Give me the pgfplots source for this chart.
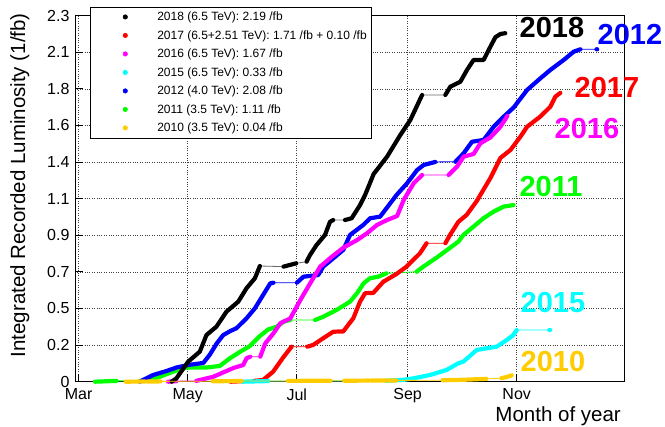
\documentclass[border=0pt]{standalone}
\usepackage{fontspec}
\setmainfont{Liberation Sans}
\usepackage{pgfplots}
\usepackage{pgfplotstable}
\pgfplotsset{compat=1.18}

\definecolor{rgreen}{RGB}{0,255,0}
\definecolor{rorange}{RGB}{255,204,0}
\definecolor{rcyan}{RGB}{0,255,255}
\definecolor{rmagenta}{RGB}{255,0,255}
\definecolor{rblue}{RGB}{0,0,255}
\definecolor{rred}{RGB}{255,0,0}

% day of year vs integrated luminosity (1/fb); nan rows = no data (gap)
\pgfplotstableread{
d l
112.0 0.000
114.7 0.021
121.3 0.126
127.8 0.189
131.5 0.293
137.1 0.346
142.7 0.440
149.3 0.503
153.9 0.587
158.6 0.650
161.4 0.727
nan nan
174.6 0.723
181.7 0.744
nan nan
187.5 0.754
189.4 0.796
193.1 0.859
197.8 0.922
200.6 1.005
202.4 1.016
nan nan
209.0 1.016
212.7 1.027
217.4 1.110
220.2 1.173
225.0 1.305
232.5 1.414
239.9 1.550
245.5 1.644
252.1 1.802
nan nan
265.1 1.802
267.9 1.854
273.5 1.885
277.2 1.959
280.9 2.022
286.5 2.022
289.3 2.084
293.1 2.165
295.9 2.185
298.6 2.190
}\yrEighteen

\pgfplotstableread{
d l
145.0 0.000
151.0 0.003
nan nan
158.0 0.005
163.2 0.011
168.8 0.063
174.4 0.152
179.1 0.220
nan nan
187.9 0.220
191.2 0.231
196.8 0.273
202.4 0.314
208.0 0.316
213.6 0.398
217.4 0.503
220.2 0.556
224.8 0.558
230.4 0.628
237.8 0.677
243.4 0.723
250.9 0.807
254.6 0.870
nan nan
265.1 0.870
267.7 0.922
272.4 1.005
277.0 1.048
282.7 1.136
290.3 1.280
295.9 1.406
301.5 1.456
307.1 1.540
310.8 1.602
318.3 1.667
323.8 1.728
326.6 1.791
329.4 1.815
}\yrSeventeen

\pgfplotstableread{
d l
110.0 0.000
114.6 0.003
nan nan
125.8 0.005
135.3 0.031
146.6 0.086
152.1 0.105
153.9 0.147
156.0 0.157
nan nan
161.6 0.157
164.4 0.241
169.0 0.304
172.8 0.367
178.4 0.398
184.0 0.513
189.5 0.618
195.1 0.723
201.7 0.786
208.2 0.843
215.7 0.890
221.3 0.933
226.9 0.985
232.5 1.016
238.1 1.041
241.8 1.142
247.4 1.247
252.1 1.299
nan nan
266.9 1.299
271.6 1.351
275.3 1.414
280.9 1.431
284.7 1.498
290.3 1.535
295.9 1.602
299.8 1.670
}\yrSixteen

\pgfplotstableread{
d l
151.5 0.000
166.0 0.004
nan nan
232.0 0.006
242.0 0.012
247.2 0.021
256.5 0.042
265.8 0.074
272.4 0.116
275.2 0.126
282.6 0.199
288.2 0.210
293.8 0.220
299.4 0.262
303.1 0.293
305.0 0.325
nan nan
323.2 0.325
323.7 0.325
}\yrFifteen

\pgfplotstableread{
d l
94.2 0.000
101.7 0.042
109.1 0.067
115.0 0.090
121.4 0.105
129.8 0.118
133.4 0.170
137.3 0.241
140.9 0.293
144.8 0.318
148.3 0.336
153.9 0.398
158.6 0.461
163.2 0.545
167.2 0.618
169.0 0.622
nan nan
182.1 0.622
185.8 0.660
194.0 0.670
196.8 0.723
202.4 0.775
208.0 0.828
211.8 0.922
219.2 0.985
223.0 1.027
228.6 1.037
232.2 1.090
237.8 1.173
243.7 1.247
249.3 1.330
253.0 1.362
259.5 1.381
nan nan
270.7 1.382
275.3 1.435
280.0 1.508
286.5 1.519
292.1 1.602
297.7 1.665
303.3 1.723
310.8 1.833
318.3 1.907
323.8 1.959
331.3 2.022
336.9 2.074
340.6 2.089
nan nan
349.6 2.089
350.0 2.089
}\yrTwelve

\pgfplotstableread{
d l
69.2 0.000
81.2 0.005
nan nan
94.4 0.005
99.8 0.011
105.4 0.031
112.9 0.063
120.3 0.089
131.5 0.089
139.0 0.099
144.6 0.147
150.2 0.187
155.8 0.224
161.4 0.287
166.0 0.328
170.9 0.346
174.6 0.377
178.4 0.388
nan nan
192.3 0.388
196.8 0.408
204.3 0.451
211.8 0.503
215.7 0.556
219.4 0.618
222.9 0.650
227.6 0.660
232.2 0.681
nan nan
249.0 0.691
252.8 0.723
260.3 0.780
267.9 0.843
272.4 0.880
275.2 0.922
280.8 0.974
286.4 1.027
292.0 1.068
297.6 1.100
303.2 1.110
}\yrEleven

\pgfplotstableread{
d l
86.3 0.000
97.2 0.001
nan nan
98.3 0.001
105.8 0.002
nan nan
135.0 0.003
151.2 0.004
nan nan
177.1 0.005
200.9 0.006
nan nan
208.5 0.006
222.5 0.007
nan nan
223.6 0.007
237.6 0.008
nan nan
263.5 0.009
275.0 0.012
288.0 0.018
nan nan
296.4 0.022
299.0 0.028
302.2 0.040
}\yrTen

\pgfplotsset{
  run/.style={line width=4.2pt, line join=round, line cap=round, unbounded coords=jump, forget plot},
  link/.style={line width=0.8pt, unbounded coords=discard, forget plot},
}

\begin{document}
\begin{tikzpicture}[x=1pt,y=1pt]
\useasboundingbox (0,0) rectangle (665,427);
\begin{axis}[
  at={(75pt,45.3pt)}, anchor=south west,
  width=549pt, height=366pt, scale only axis,
  xmin=58, xmax=365, ymin=0, ymax=2.3,
  clip=false,
  xtick={60,121,182,244,305},
  xticklabels={Mar,May,Jul,Sep,Nov},
  ytick={0,0.23,0.46,0.69,0.92,1.15,1.38,1.61,1.84,2.07,2.3},
  yticklabels={0,0.2,0.5,0.7,0.9,1.1,1.4,1.6,1.8,2.1,2.3},
  grid=major,
  major grid style={black!75, line width=0.5pt, dash pattern=on 0.8pt off 1.6pt},
  axis line style={line width=0.9pt},
  tick align=inside, xtick pos=bottom, ytick pos=left,
  major tick length=8pt,
  tick style={black, line width=0.9pt},
  ticklabel style={font=\fontsize{16}{18}\selectfont},
  xticklabel style={yshift=-3.5pt},
  yticklabel style={xshift=-2pt},
  legend cell align=left,
  legend image code/.code={\path[draw=none, fill=none] (0pt,0pt) -- (62pt,0pt);
    \fill (32pt,0pt) circle (2.2pt);},
  legend style={at={(0.0273,1.025)}, anchor=north west, draw=black, line width=0.6pt,
    fill=white, inner xsep=3pt, inner ysep=3pt, row sep=4.3pt,
    font=\fontsize{12}{14}\selectfont,
    nodes={inner sep=2pt, text depth=0.15em}},
]
\addlegendimage{color=black}\addlegendentry{2018 (6.5 TeV): 2.19 /fb}
\addlegendimage{color=rred}\addlegendentry{2017 (6.5+2.51 TeV): 1.71 /fb + 0.10 /fb}
\addlegendimage{color=rmagenta}\addlegendentry{2016 (6.5 TeV): 1.67 /fb}
\addlegendimage{color=rcyan}\addlegendentry{2015 (6.5 TeV): 0.33 /fb}
\addlegendimage{color=rblue}\addlegendentry{2012 (4.0 TeV): 2.08 /fb}
\addlegendimage{color=rgreen}\addlegendentry{2011 (3.5 TeV): 1.11 /fb}
\addlegendimage{color=rorange}\addlegendentry{2010 (3.5 TeV): 0.04 /fb}

\addplot[link, rgreen] table[x=d, y=l] {\yrEleven};
\addplot[run, rgreen] table[x=d, y=l] {\yrEleven};
\addplot[link, rblue] table[x=d, y=l] {\yrTwelve};
\addplot[run, rblue] table[x=d, y=l] {\yrTwelve};
\addplot[link, rmagenta] table[x=d, y=l] {\yrSixteen};
\addplot[run, rmagenta] table[x=d, y=l] {\yrSixteen};
\addplot[link, rred] table[x=d, y=l] {\yrSeventeen};
\addplot[run, rred] table[x=d, y=l] {\yrSeventeen};
\addplot[link, rcyan] table[x=d, y=l] {\yrFifteen};
\addplot[run, rcyan] table[x=d, y=l] {\yrFifteen};
\addplot[link, black!60] table[x=d, y=l] {\yrEighteen};
\addplot[run, black] table[x=d, y=l] {\yrEighteen};
\addplot[link, rorange] table[x=d, y=l] {\yrTen};
\addplot[run, rorange] table[x=d, y=l] {\yrTen};
\end{axis}

\begin{scope}[every node/.style={inner sep=0pt, font=\fontsize{29}{30}\selectfont\bfseries}]
\node[black]    at (552,399) {2018};
\node[rblue]    at (630,392) {2012};
\node[rred]     at (607,339) {2017};
\node[rmagenta] at (587,298) {2016};
\node[rgreen]   at (551,240) {2011};
\node[rcyan]    at (553,124) {2015};
\node[rorange]  at (553,65)  {2010};
\end{scope}

\node[rotate=90, anchor=base east, inner sep=0pt, font=\fontsize{20.5}{22}\selectfont]
  at (25,414) {Integrated Recorded Luminosity (1/fb)};
\node[anchor=base east, inner sep=0pt, font=\fontsize{20.5}{22}\selectfont]
  at (621,5) {Month of year};
\end{tikzpicture}
\end{document}
